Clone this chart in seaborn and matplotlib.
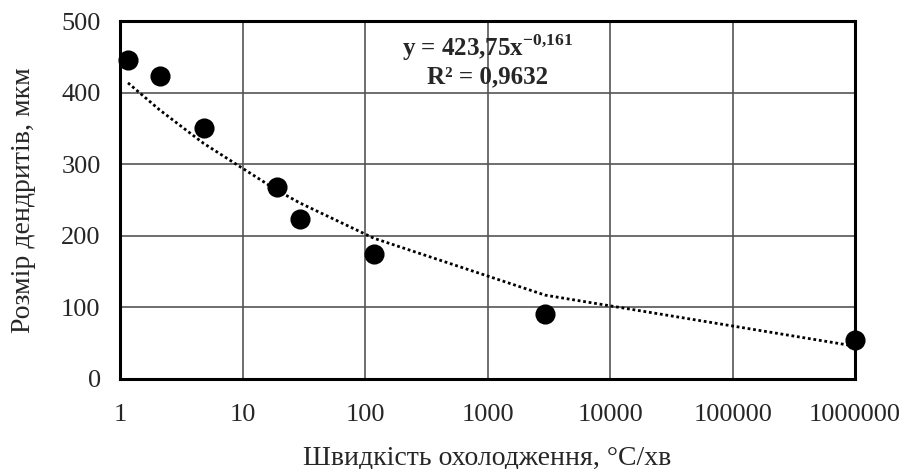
# Dendrite size vs cooling rate, power trend line
import pandas as pd
import seaborn as sns
import matplotlib.pyplot as plt

# Data
cooling_rate = [1.16, 2.1, 4.8, 19, 29.5, 118, 2950, 1000000]
dendrite_size = [445, 423, 350, 268, 223, 175, 91, 54]
# trend values y = 423,75x^-0,161 at the same x (as drawn by Excel)
trend_size = [413.7, 376.0, 329.2, 263.8, 245.7, 196.6, 117.1, 45.8]

x_ticks = [1, 10, 100, 1000, 10000, 100000, 1000000]
x_tick_labels = ['1', '10', '100', '1000', '10000', '100000', '1000000']
y_ticks = [0, 100, 200, 300, 400, 500]

data = pd.DataFrame({'rate': cooling_rate, 'size': dendrite_size,
                     'trend': trend_size})

sns.set_theme(style='white')
plt.rcParams['font.family'] = ['Liberation Serif', 'DejaVu Serif']
plt.rcParams['mathtext.fontset'] = 'custom'
plt.rcParams['mathtext.rm'] = 'Liberation Serif'
plt.rcParams['mathtext.bf'] = 'Liberation Serif:bold'

fig = plt.figure(figsize=(9.03, 4.69), dpi=100)
ax = fig.add_axes([0.133, 0.192, 0.814, 0.763])

sns.lineplot(x='rate', y='trend', data=data, ax=ax, color='black',
             linewidth=2, linestyle=(0, (1, 1)), zorder=3)
sns.scatterplot(x='rate', y='size', data=data, ax=ax, color='black',
                s=180, edgecolor='black', zorder=4, clip_on=False)

ax.set_xscale('log')
ax.set_xlim(1, 1000000)
ax.set_ylim(0, 500)
ax.set_xticks(x_ticks)
ax.set_xticklabels(x_tick_labels)
ax.minorticks_off()
ax.set_yticks(y_ticks)
ax.tick_params(labelsize=19, length=0)
ax.tick_params(axis='x', pad=18)
ax.tick_params(axis='y', pad=14)

ax.grid(True, color='#555555', linewidth=1.2)
for sp in ax.spines.values():
    sp.set_color('black')
    sp.set_linewidth(2.2)

ax.set_xlabel('Швидкість охолодження, °С/хв', fontsize=20, labelpad=14)
ax.set_ylabel('Розмір дендритів, мкм', fontsize=20, labelpad=18)

ax.text(0.5, 0.97, 'y = 423,75x$^{\\mathbf{-0{,}161}}$\nR² = 0,9632',
        transform=ax.transAxes, ha='center', va='top', fontsize=18,
        fontweight='bold', linespacing=1.15)

fig.savefig('out.png', dpi=100)
